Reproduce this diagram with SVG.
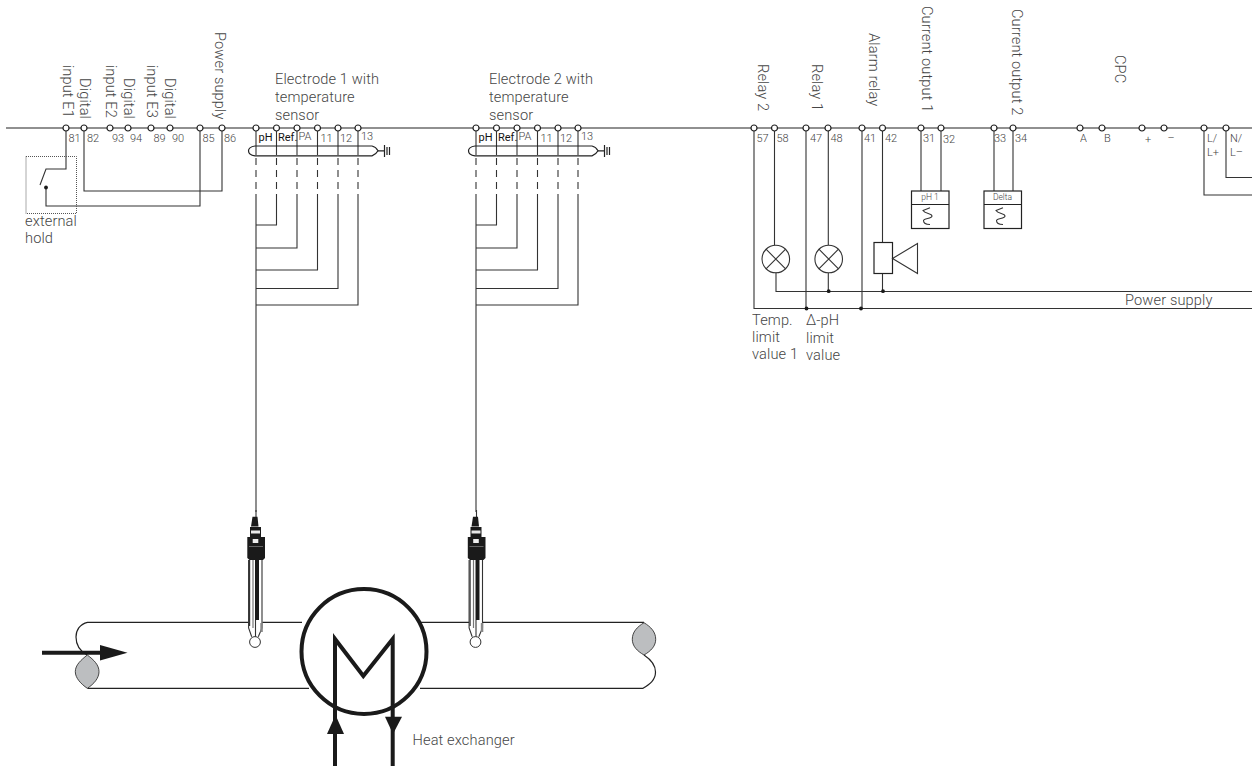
<svg xmlns="http://www.w3.org/2000/svg" width="1252" height="770" viewBox="0 0 1252 770">
<style>
text{font-family:Roboto,"Liberation Sans",Arial,sans-serif;fill:#444;font-weight:300;opacity:.99}
.l{font-size:14.6px;letter-spacing:.13px}
.n{font-size:11px}
.b{font-size:11px;fill:#111;font-weight:400}
.s{font-size:8.5px;text-anchor:middle}
.w{fill:none;stroke:#333;stroke-width:1.1}
.d{fill:none;stroke:#333;stroke-width:1.1;stroke-dasharray:7 5}
.t{fill:#fff;stroke:#222;stroke-width:1.2}
.p{fill:none;stroke:#222;stroke-width:1.2}
.h{fill:none;stroke:#1a1a1a;stroke-width:4}
.k{fill:#1a1a1a}
.g{fill:#bcbec0;stroke:#333;stroke-width:.9}
</style>
<defs>
<g id="tm"><circle r="3" class="t"/></g>
<g id="dot"><circle r="1.9" class="k"/></g>
<g id="probe">
<path d="M256 510V517" class="w"/>
<path d="M252.500 516.700H257.500L258.500 526.500H251Z" class="k"/>
<path d="M250 527H261V537H250Z" class="k"/>
<path d="M251 530.500H260V533.500H251Z" fill="#e8e8e8"/>
<path d="M247.300 537H265V558L263 560H249.500L247.300 558Z" class="k"/>
<path d="M252.700 539H258.300V543H252.700Z" fill="#eee"/>
<path d="M249 546.500H263" stroke="#777" stroke-width=".8"/>
<path d="M248.500 560H262.500V628L258.300 636.700H251.700L248.500 628Z" fill="#fff"/>
<path d="M248.600 560V628L251.700 636.700M262 560V628L258.300 636.700" class="w"/>
<path d="M249.600 560V626" stroke="#333" stroke-width="1.2"/>
<path d="M253 560V628" stroke="#777" stroke-width="1.200"/>
<rect x="255" y="560" width="4" height="60" class="k"/>
<path d="M255.500 620V637" class="w"/>
<rect x="260.300" y="623" width="2.500" height="9" fill="#888"/>
<circle cx="255" cy="642" r="5.400" fill="#fff" stroke="#333" stroke-width="1"/>
</g>
<g id="shield">
<path d="M255 146H372Q376 147 378 150.800Q376 154.500 372 155.900H255Q248.500 155 248.500 150.800Q248.500 147 255 146Z" class="p"/>
<path d="M378 150.800H384.500M384.500 145V157" class="p"/>
<path d="M387 147V155M389.500 147V155" class="p"/>
</g>
<g id="wiring">
<path d="M256 128V155M276.500 128V155M297 128V155M317.500 128V155M338 128V155M358 128V155" class="w"/>
<path d="M256 158V200M276.500 158V200M297 158V196M317.500 158V196M338 158V196M358 158V196" class="d"/>
<path d="M256 200V512M276.500 200V225H256M297 196V248H256M317.500 196V270H256M338 196V288.500H256M358 196V305H256" class="w"/>
</g>
<g id="wave"><path d="M7 -8.300L0 -5.500C2 -2 9 -3 9 0C9 3 1 2 .5 4.500C.5 7.500 3 8.500 7 8.500" class="w"/></g>
</defs>

<g id="connectors">
<path d="M6 128H1252" class="p"/>
<path d="M66 128V169H46L40 185M46 187V206H200V128M84 128V191H222V128" class="w"/>
<use href="#wiring"/>
<use href="#wiring" x="220"/>
<path d="M754 128V308.500H1252M774.500 128V245M776 272.500V291.500H1252M806 128V308.500M828.300 128V245M828.300 273V291.500M862 128V308.500M882.500 128V242.500M882.500 273.500V291.500" class="w"/>
<path d="M921 128V191M941 128V191M994 128V191M1013 128V191M1204 128V195H1252M1226 128V177.500H1252" class="w"/>
<use href="#dot" x="828.700" y="291.200"/>
<use href="#dot" x="883" y="291.200"/>
<use href="#dot" x="806.500" y="308.500"/>
<use href="#dot" x="861" y="308.500"/>
</g>

<g id="terminals">
<use href="#tm" x="66" y="128"/><use href="#tm" x="84" y="128"/><use href="#tm" x="110" y="128"/><use href="#tm" x="128" y="128"/><use href="#tm" x="151" y="128"/><use href="#tm" x="170" y="128"/><use href="#tm" x="200" y="128"/><use href="#tm" x="222" y="128"/>
<use href="#tm" x="256" y="128"/><use href="#tm" x="276.500" y="128"/><use href="#tm" x="297" y="128"/><use href="#tm" x="317.500" y="128"/><use href="#tm" x="338" y="128"/><use href="#tm" x="358" y="128"/>
<use href="#tm" x="476" y="128"/><use href="#tm" x="496.500" y="128"/><use href="#tm" x="517" y="128"/><use href="#tm" x="537.500" y="128"/><use href="#tm" x="558" y="128"/><use href="#tm" x="578" y="128"/>
<use href="#tm" x="754" y="128"/><use href="#tm" x="774.500" y="128"/><use href="#tm" x="806" y="128"/><use href="#tm" x="828" y="128"/><use href="#tm" x="862" y="128"/><use href="#tm" x="882.500" y="128"/><use href="#tm" x="921" y="128"/><use href="#tm" x="941" y="128"/><use href="#tm" x="994" y="128"/><use href="#tm" x="1013" y="128"/>
<use href="#tm" x="1080" y="128"/><use href="#tm" x="1102" y="128"/><use href="#tm" x="1142" y="128"/><use href="#tm" x="1164" y="128"/><use href="#tm" x="1204" y="128"/><use href="#tm" x="1226" y="128"/>
</g>

<g id="terminal-labels">
<text class="n" x="68.500" y="142">81</text><text class="n" x="87" y="142">82</text><text class="n" x="112" y="142">93</text><text class="n" x="130" y="142">94</text><text class="n" x="153.500" y="142">89</text><text class="n" x="172" y="142">90</text><text class="n" x="202.500" y="142">85</text><text class="n" x="224" y="142">86</text>
<text class="b" x="258.500" y="141">pH</text><text class="b" x="278" y="141">Ref.</text><text class="n" x="298.500" y="140">PA</text><text class="n" x="320.500" y="142">11</text><text class="n" x="340" y="142">12</text><text class="n" x="361" y="140">13</text>
<text class="b" x="478.500" y="141">pH</text><text class="b" x="498" y="141">Ref.</text><text class="n" x="518.500" y="140">PA</text><text class="n" x="540.500" y="142">11</text><text class="n" x="560" y="142">12</text><text class="n" x="581" y="140">13</text>
<text class="n" x="756.500" y="142">57</text><text class="n" x="776.500" y="142">58</text><text class="n" x="810" y="142">47</text><text class="n" x="830.500" y="142">48</text><text class="n" x="864" y="142">41</text><text class="n" x="885" y="142">42</text><text class="n" x="923" y="142">31</text><text class="n" x="943" y="142.500">32</text><text class="n" x="994" y="142">33</text><text class="n" x="1015" y="142">34</text>
<text class="n" x="1080" y="142">A</text><text class="n" x="1104" y="142">B</text><text class="n" x="1145" y="142.500">+</text><text class="n" x="1167.500" y="142">–</text><text class="n" x="1207" y="142">L/</text><text class="n" x="1207" y="156">L+</text><text class="n" x="1230" y="142">N/</text><text class="n" x="1230" y="156">L–</text>
</g>

<g id="hold-contact">
<rect x="26" y="156.500" width="50.500" height="57" fill="none" stroke="#555" stroke-width="1" stroke-dasharray="1 1"/>
<use href="#dot" x="46" y="187.500"/>
<text class="l" x="25" y="225.500">external</text>
<text class="l" x="25" y="243">hold</text>
</g>

<g id="input-labels">
<text class="l" text-anchor="end" transform="translate(63 118) rotate(90)">input E1</text>
<text class="l" text-anchor="end" transform="translate(80 119) rotate(90)">Digital</text>
<text class="l" text-anchor="end" transform="translate(106 118) rotate(90)">input E2</text>
<text class="l" text-anchor="end" transform="translate(123.500 119) rotate(90)">Digital</text>
<text class="l" text-anchor="end" transform="translate(147 118) rotate(90)">input E3</text>
<text class="l" text-anchor="end" transform="translate(165 119) rotate(90)">Digital</text>
<text class="l" transform="translate(215 32) rotate(90)">Power supply</text>
</g>

<g id="electrode-1">
<use href="#shield"/>
<text class="l" x="275" y="84">Electrode 1 with</text>
<text class="l" x="275" y="101.500">temperature</text>
<text class="l" x="275" y="119.500">sensor</text>
</g>
<g id="electrode-2">
<use href="#shield" x="220"/>
<text class="l" x="489" y="84">Electrode 2 with</text>
<text class="l" x="489" y="101.500">temperature</text>
<text class="l" x="489" y="119.500">sensor</text>
</g>

<g id="output-labels">
<text class="l" transform="translate(758 64) rotate(90)">Relay 2</text>
<text class="l" transform="translate(812 64) rotate(90)">Relay 1</text>
<text class="l" transform="translate(869 33) rotate(90)">Alarm relay</text>
<text class="l" transform="translate(922 6) rotate(90)">Current output 1</text>
<text class="l" transform="translate(1012 9) rotate(90)">Current output 2</text>
<text class="l" transform="translate(1115 55) rotate(90)">CPC</text>
</g>

<g id="lamp-1">
<circle cx="775.800" cy="259" r="13.800" class="w"/>
<path d="M766 249.200L785.600 268.800M785.600 249.200L766 268.800" class="w"/>
</g>
<g id="lamp-2">
<circle cx="828.700" cy="259" r="13.800" class="w"/>
<path d="M818.900 249.200L838.500 268.800M838.500 249.200L818.900 268.800" class="w"/>
</g>
<g id="alarm">
<rect x="874" y="242.500" width="18.500" height="31" class="p" style="fill:#fff"/>
<path d="M892.500 258.500L917.500 243.500V273.500Z" class="w"/>
</g>
<g id="meter-ph1">
<rect x="911.500" y="191" width="37.500" height="37.500" class="p"/>
<path d="M911.500 204.500H949" class="p"/>
<use href="#wave" x="923" y="216"/>
<text class="s" x="930" y="199.500">pH 1</text>
</g>
<g id="meter-delta">
<rect x="984" y="191" width="37.500" height="37.500" class="p"/>
<path d="M984 204.500H1021.500" class="p"/>
<use href="#wave" x="996" y="216"/>
<text class="s" x="1002.500" y="200">Delta</text>
</g>

<g id="supply-labels">
<text class="l" x="1125" y="305">Power supply</text>
<text class="l" x="752" y="325">Temp.</text>
<text class="l" x="752" y="341.500">limit</text>
<text class="l" x="752" y="359">value 1</text>
<text class="l" x="806" y="325">Δ-pH</text>
<text class="l" x="806" y="343">limit</text>
<text class="l" x="806" y="360">value</text>
</g>

<g id="pipe">
<path d="M302 622.300H87.500C80 624 76 630 76 637C76 645 80 651 87 655M309 688.300H87.500M419 622.300H644M420 688.300H643C650 684 655.500 680 655.500 672C655.500 664 650 659 644 655" class="p"/>
<path d="M87.300 655C94 660 99 665 99 671.700C99 678 94 684 87.300 688.300C81 684 75.300 678 75.300 671.700C75.300 665 81 660 87.300 655Z" class="g"/>
<path d="M644 622.700C651 627 655.700 632 655.700 639.300C655.700 646 651 651 644 655C637 651 632.300 646 632.300 639.300C632.300 632 637 627 644 622.700Z" class="g"/>
<path d="M42 652.700H102" class="h"/>
<path d="M100 645L127.500 652.700L100 660.500Z" class="k"/>
</g>

<g id="probe-1"><use href="#probe"/></g>
<g id="probe-2"><use href="#probe" x="220.500"/></g>

<g id="heat-exchanger">
<circle cx="364" cy="651.500" r="62.500" fill="none" stroke="#1a1a1a" stroke-width="4"/>
<path d="M335 766V639L363.300 676L392.700 639V766" class="h"/>
<path d="M335.500 715L344 734H327Z" class="k"/>
<path d="M385 716.700H402L393 734Z" class="k"/>
<text class="l" x="412.500" y="745">Heat exchanger</text>
</g>
</svg>
